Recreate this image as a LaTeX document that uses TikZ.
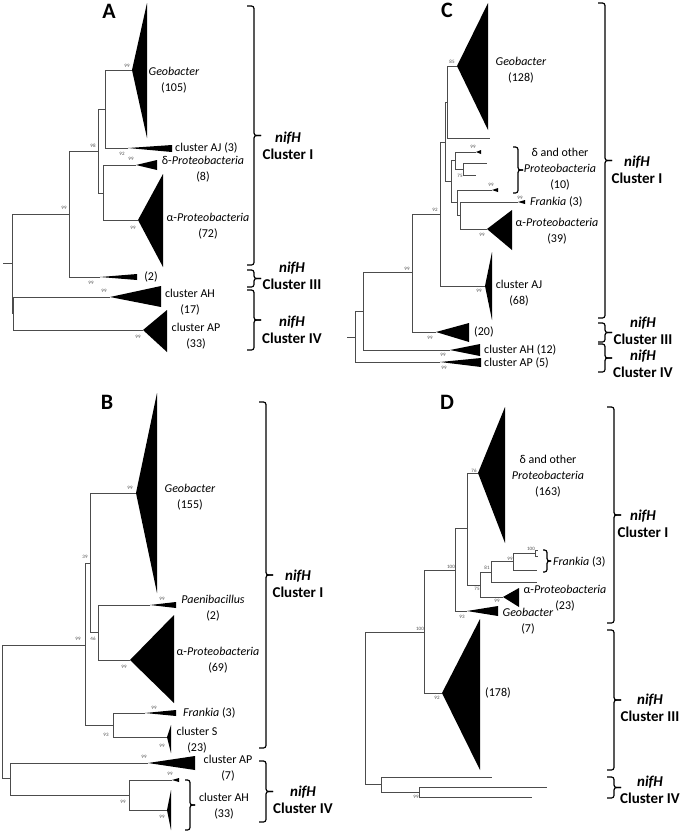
\documentclass[tikz,border=0pt]{standalone}
\usepackage{fontspec}
\setmainfont{Carlito}
\usetikzlibrary{calc}

\tikzset{
  br/.style={black!70, line width=0.6pt},
  bs/.style={font=\fontsize{5}{5}\selectfont, text=black!70, inner sep=0pt},
  tx/.style={font=\fontsize{12}{16}\selectfont, inner sep=0pt, align=center},
  txl/.style={font=\fontsize{12}{16}\selectfont, inner sep=0pt, anchor=west},
  clu/.style={font=\bfseries\fontsize{15}{17}\selectfont, inner sep=0pt, align=center},
  panel/.style={font=\bfseries\fontsize{22}{22}\selectfont, inner sep=0pt},
  brk/.style={line width=1.2pt, rounded corners=2.5pt},
}
% bracket from top to bottom, #3 = depth of the arms
\newcommand\clbr[3]{%
  \draw[brk] (#1) -- ++(#3,0) -- ($(#1)!.5!(#2)+(#3,0)$) -- ++(#3,0);
  \draw[brk] ($(#1)!.5!(#2)+(2*#3,0)$) -- ++(-#3,0) -- ($(#2)+(#3,0)$) -- (#2);}

\begin{document}
\begin{tikzpicture}[x=1pt, y=-1pt]
\useasboundingbox (0,0) rectangle (681,831);

% A
\node[panel] (labA) at (109,11) {A};
\coordinate (aR0) at (3,263);
\coordinate (aR) at (12,263);
\coordinate (a1) at (69,214);
\coordinate (a2) at (98,151);
\coordinate (a3) at (105,109);
\coordinate (a4) at (103,193);
\coordinate (a5) at (13,313);
\coordinate (aGeo) at (132,70);
\coordinate (aAJ) at (128,148);
\coordinate (aDel) at (136,165);
\coordinate (aAlp) at (138,220);
\coordinate (aX) at (100,277);
\coordinate (aAH) at (110,297);
\coordinate (aAP) at (143,330);

\draw[br] (aR0) -- (aR) (aR) |- (a1) (aR) |- (a5)
  (a1) |- (a2) (a1) |- (aX)
  (a2) |- (a3) (a2) |- (a4)
  (a3) |- (aGeo) (a3) |- (aAJ)
  (a4) |- (aDel) (a4) |- (aAlp)
  (a5) |- (aAH) (a5) |- (aAP);

\fill (aGeo) -- (147,3) -- (147,138) -- cycle;
\fill (aAJ) -- (172,145) -- (172,152) -- cycle;
\fill (aDel) -- (157,160) -- (157,170) -- cycle;
\fill (aAlp) -- (163,174) -- (163,267) -- cycle;
\fill (aX) -- (137,274) -- (137,280) -- cycle;
\fill (aAH) -- (161,286) -- (161,307) -- cycle;
\fill (aAP) -- (167,310) -- (167,352) -- cycle;

\node[bs] (sA1) at (127,66) {99};
\node[bs] (sA2) at (93,146) {98};
\node[bs] (sA3) at (122,154) {92};
\node[bs] (sA4) at (131,159) {99};
\node[bs] (sA5) at (133,228) {99};
\node[bs] (sA6) at (64,208) {99};
\node[bs] (sA7) at (91,283) {99};
\node[bs] (sA8) at (104,291) {99};
\node[bs] (sA9) at (138,337) {99};

\node[tx] (tAGeo) at (174,80) {\textit{Geobacter}\\(105)};
\node[txl] (tAAJ) at (175,148) {cluster AJ (3)};
\node[tx] (tADel) at (203,169) {δ-\textit{Proteobacteria}\\(8)};
\node[tx] (tAAlp) at (208,226) {α-\textit{Proteobacteria}\\(72)};
\node[tx] (tAX) at (151,277) {(2)};
\node[tx] (tAAH) at (190,302) {cluster AH\\(17)};
\node[tx] (tAAP) at (196,336) {cluster AP\\(33)};

\coordinate (aB1) at (247,6);
\coordinate (aB2) at (247,265);
\coordinate (aB3) at (247,270);
\coordinate (aB4) at (247,287);
\coordinate (aB5) at (247,290);
\coordinate (aB6) at (247,350);
\clbr{aB1}{aB2}{7}
\clbr{aB3}{aB4}{7}
\clbr{aB5}{aB6}{7}
\node[clu] (cAI) at (288,146) {\textit{nifH}\\Cluster I};
\node[clu] (cAIII) at (292,276) {\textit{nifH}\\Cluster III};
\node[clu] (cAIV) at (292,330) {\textit{nifH}\\Cluster IV};

% C
\node[panel] (labC) at (447,10) {C};
\coordinate (cR0) at (347,337);
\coordinate (cR) at (355,337);
\coordinate (c1) at (363,311);
\coordinate (c2) at (412,272);
\coordinate (c3) at (440,214);
\coordinate (c4) at (445,142);
\coordinate (c5) at (447,102);
\coordinate (c6) at (451,181);
\coordinate (c7) at (455,160);
\coordinate (c8) at (463,169);
\coordinate (c9) at (457,202);
\coordinate (c10) at (460,215);
\coordinate (cGeo) at (457,66);
\coordinate (cL1) at (490,138);
\coordinate (cL2) at (476,152);
\coordinate (cL3) at (487,163);
\coordinate (cL4) at (476,175);
\coordinate (cL5) at (492,190);
\coordinate (cFra) at (518,202);
\coordinate (cAlp) at (487,229);
\coordinate (cAJ) at (485,286);
\coordinate (cX) at (436,332);
\coordinate (cAH) at (450,350);
\coordinate (cAP) at (440,362);

\draw[br] (cR0) -- (cR) (cR) |- (c1) (cR) |- (cAP)
  (c1) |- (c2) (c1) |- (cAH)
  (c2) |- (c3) (c2) |- (cX)
  (c3) |- (c4) (c3) |- (cAJ)
  (c4) |- (c5) (c4) |- (c6)
  (c5) |- (cGeo) (c5) |- (cL1)
  (c6) |- (c7) (c6) |- (c9)
  (c7) |- (cL2) (c7) |- (c8)
  (c8) |- (cL3) (c8) |- (cL4)
  (c9) |- (cL5) (c9) |- (c10)
  (c10) |- (cFra) (c10) |- (cAlp);

\fill (cGeo) -- (488,3) -- (488,130) -- cycle;
\fill (cL2) -- (481,150) -- (481,154) -- cycle;
\fill (cL5) -- (498,188) -- (498,192) -- cycle;
\fill (cFra) -- (525,200) -- (525,204) -- cycle;
\fill (cAlp) -- (512,210) -- (512,250) -- cycle;
\fill (cAJ) -- (492,252) -- (492,320) -- cycle;
\fill (cX) -- (469,323) -- (469,342) -- cycle;
\fill (cAH) -- (480,344) -- (480,356) -- cycle;
\fill (cAP) -- (481,358) -- (481,367) -- cycle;

\node[bs] (sC1) at (452,62) {85};
\node[bs] (sC2) at (473,147) {99};
\node[bs] (sC3) at (460,176) {75};
\node[bs] (sC4) at (491,185) {99};
\node[bs] (sC5) at (520,198) {99};
\node[bs] (sC6) at (482,235) {99};
\node[bs] (sC7) at (435,210) {92};
\node[bs] (sC8) at (479,291) {99};
\node[bs] (sC9) at (407,269) {99};
\node[bs] (sC10) at (430,338) {99};
\node[bs] (sC11) at (443,355) {99};
\node[bs] (sC12) at (444,368) {99};

\node[tx] (tCGeo) at (521,70) {\textit{Geobacter}\\(128)};
\node[tx] (tCDel) at (560,169) {δ and other\\\textit{Proteobacteria}\\(10)};
\node[txl] (tCFra) at (530,202) {\textit{Frankia} (3)};
\node[tx] (tCAlp) at (557,231) {α-\textit{Proteobacteria}\\(39)};
\node[tx] (tCAJ) at (519,293) {cluster AJ\\(68)};
\node[txl] (tCX) at (474,332) {(20)};
\node[txl] (tCAH) at (484,350) {cluster AH (12)};
\node[txl] (tCAP) at (484,363) {cluster AP (5)};

\coordinate (cS1) at (513,147);
\coordinate (cS2) at (513,193);
\clbr{cS1}{cS2}{5}

\coordinate (cB1) at (598,3);
\coordinate (cB2) at (598,318);
\coordinate (cB3) at (598,323);
\coordinate (cB4) at (598,342);
\coordinate (cB5) at (598,344);
\coordinate (cB6) at (598,372);
\clbr{cB1}{cB2}{7}
\clbr{cB3}{cB4}{7}
\clbr{cB5}{cB6}{7}
\node[clu] (cCI) at (637,170) {\textit{nifH}\\Cluster I};
\node[clu] (cCIII) at (643,331) {\textit{nifH}\\Cluster III};
\node[clu] (cCIV) at (643,364) {\textit{nifH}\\Cluster IV};

% B
\node[panel] (labB) at (107,402) {B};
\coordinate (bR) at (2,712);
\coordinate (b1) at (85,645);
\coordinate (b2) at (90,563);
\coordinate (b3) at (98,632);
\coordinate (b4) at (113,725);
\coordinate (b5) at (10,778);
\coordinate (b6) at (129,795);
\coordinate (bGeo) at (136,493);
\coordinate (bPae) at (150,605);
\coordinate (bAlp) at (130,660);
\coordinate (bFra) at (145,713);
\coordinate (bS) at (167,737);
\coordinate (bAP) at (148,763);
\coordinate (bL1) at (172,780);
\coordinate (bAH) at (167,810);

\draw[br] (bR) |- (b1) (bR) |- (b5)
  (b1) |- (b2) (b1) |- (b4)
  (b2) |- (bGeo) (b2) |- (b3)
  (b3) |- (bPae) (b3) |- (bAlp)
  (b4) |- (bFra) (b4) |- (bS)
  (b5) |- (bAP) (b5) |- (b6)
  (b6) |- (bL1) (b6) |- (bAH);

\fill (bGeo) -- (157,393) -- (157,593) -- cycle;
\fill (bPae) -- (176,602) -- (176,608) -- cycle;
\fill (bAlp) -- (174,615) -- (174,703) -- cycle;
\fill (bFra) -- (176,710) -- (176,716) -- cycle;
\fill (bS) -- (171,725) -- (171,753) -- cycle;
\fill (bAP) -- (195,756) -- (195,770) -- cycle;
\fill (bL1) -- (179,778) -- (179,782) -- cycle;
\fill (bAH) -- (171,790) -- (171,830) -- cycle;

\node[bs] (sB1) at (130,488) {99};
\node[bs] (sB2) at (85,557) {39};
\node[bs] (sB3) at (162,599) {99};
\node[bs] (sB4) at (93,639) {46};
\node[bs] (sB5) at (78,639) {99};
\node[bs] (sB6) at (124,667) {99};
\node[bs] (sB7) at (154,708) {99};
\node[bs] (sB8) at (106,735) {93};
\node[bs] (sB9) at (162,746) {99};
\node[bs] (sB10) at (144,757) {99};
\node[bs] (sB11) at (170,774) {99};
\node[bs] (sB12) at (123,802) {99};
\node[bs] (sB13) at (162,817) {99};

\node[tx] (tBGeo) at (190,497) {\textit{Geobacter}\\(155)};
\node[tx] (tBPae) at (213,608) {\textit{Paenibacillus}\\(2)};
\node[tx] (tBAlp) at (218,660) {α-\textit{Proteobacteria}\\(69)};
\node[txl] (tBFra) at (183,713) {\textit{Frankia} (3)};
\node[tx] (tBS) at (197,740) {cluster S\\(23)};
\node[tx] (tBAP) at (228,768) {cluster AP\\(7)};
\node[tx] (tBAH) at (224,806) {cluster AH\\(33)};

\coordinate (bS1) at (185,780);
\coordinate (bS2) at (185,830);
\clbr{bS1}{bS2}{5}

\coordinate (bB1) at (259,402);
\coordinate (bB2) at (259,748);
\coordinate (bB3) at (259,761);
\coordinate (bB4) at (259,822);
\clbr{bB1}{bB2}{7}
\clbr{bB3}{bB4}{7}
\node[clu] (cBI) at (298,584) {\textit{nifH}\\Cluster I};
\node[clu] (cBIV) at (303,800) {\textit{nifH}\\Cluster IV};

% D
\node[panel] (labD) at (447,402) {D};
\coordinate (dR) at (365,707);
\coordinate (d1) at (424,632);
\coordinate (d2) at (455,570);
\coordinate (d3) at (467,528);
\coordinate (d4) at (381,784);
\coordinate (d5) at (480,585);
\coordinate (d6) at (491,572);
\coordinate (d7) at (513,561);
\coordinate (d8) at (535,553);
\coordinate (d9) at (419,792);
\coordinate (dDel) at (478,473);
\coordinate (dGeo) at (467,611);
\coordinate (dX) at (442,693);
\coordinate (dAlp) at (503,597);
\coordinate (dL1) at (537,582);
\coordinate (dL2) at (537,570);
\coordinate (dL3) at (538,550);
\coordinate (dL4) at (538,556);
\coordinate (dL5) at (492,777);
\coordinate (dL6) at (547,787);
\coordinate (dL7) at (532,797);

\draw[br] (dR) |- (d1) (dR) |- (d4)
  (d1) |- (d2) (d1) |- (dX)
  (d2) |- (d3) (d2) |- (dGeo)
  (d3) |- (dDel) (d3) |- (d5)
  (d5) |- (d6) (d5) |- (dAlp)
  (d6) |- (d7) (d6) |- (dL1)
  (d7) |- (d8) (d7) |- (dL2)
  (d8) |- (dL3) (d8) |- (dL4)
  (d4) |- (dL5) (d4) |- (d9)
  (d9) |- (dL6) (d9) |- (dL7);

\fill (dDel) -- (505,407) -- (505,543) -- cycle;
\fill (dGeo) -- (498,606) -- (498,616) -- cycle;
\fill (dX) -- (480,619) -- (480,770) -- cycle;
\fill (dAlp) -- (519,588) -- (519,607) -- cycle;

\node[bs] (sD1) at (474,471) {76};
\node[bs] (sD2) at (451,567) {100};
\node[bs] (sD3) at (477,589) {75};
\node[bs] (sD4) at (487,568) {81};
\node[bs] (sD5) at (510,559) {99};
\node[bs] (sD6) at (531,549) {100};
\node[bs] (sD7) at (497,601) {99};
\node[bs] (sD8) at (462,617) {93};
\node[bs] (sD9) at (420,629) {100};
\node[bs] (sD10) at (437,698) {92};
\node[bs] (sD11) at (416,797) {99};

\node[tx] (tDDel) at (548,476) {δ and other\\\textit{Proteobacteria}\\(163)};
\node[txl] (tDFra) at (553,562) {\textit{Frankia} (3)};
\node[tx] (tDAlp) at (565,598) {α-\textit{Proteobacteria}\\(23)};
\node[tx] (tDGeo) at (528,621) {\textit{Geobacter}\\(7)};
\node[tx] (tDX) at (498,693) {(178)};

\coordinate (dS1) at (543,550);
\coordinate (dS2) at (543,572);
\clbr{dS1}{dS2}{4}

\coordinate (dB1) at (607,407);
\coordinate (dB2) at (607,623);
\coordinate (dB3) at (607,630);
\coordinate (dB4) at (607,770);
\coordinate (dB5) at (607,777);
\coordinate (dB6) at (607,798);
\clbr{dB1}{dB2}{7}
\clbr{dB3}{dB4}{7}
\clbr{dB5}{dB6}{7}
\node[clu] (cDI) at (643,524) {\textit{nifH}\\Cluster I};
\node[clu] (cDIII) at (650,708) {\textit{nifH}\\Cluster III};
\node[clu] (cDIV) at (650,790) {\textit{nifH}\\Cluster IV};

\end{tikzpicture}
\end{document}
